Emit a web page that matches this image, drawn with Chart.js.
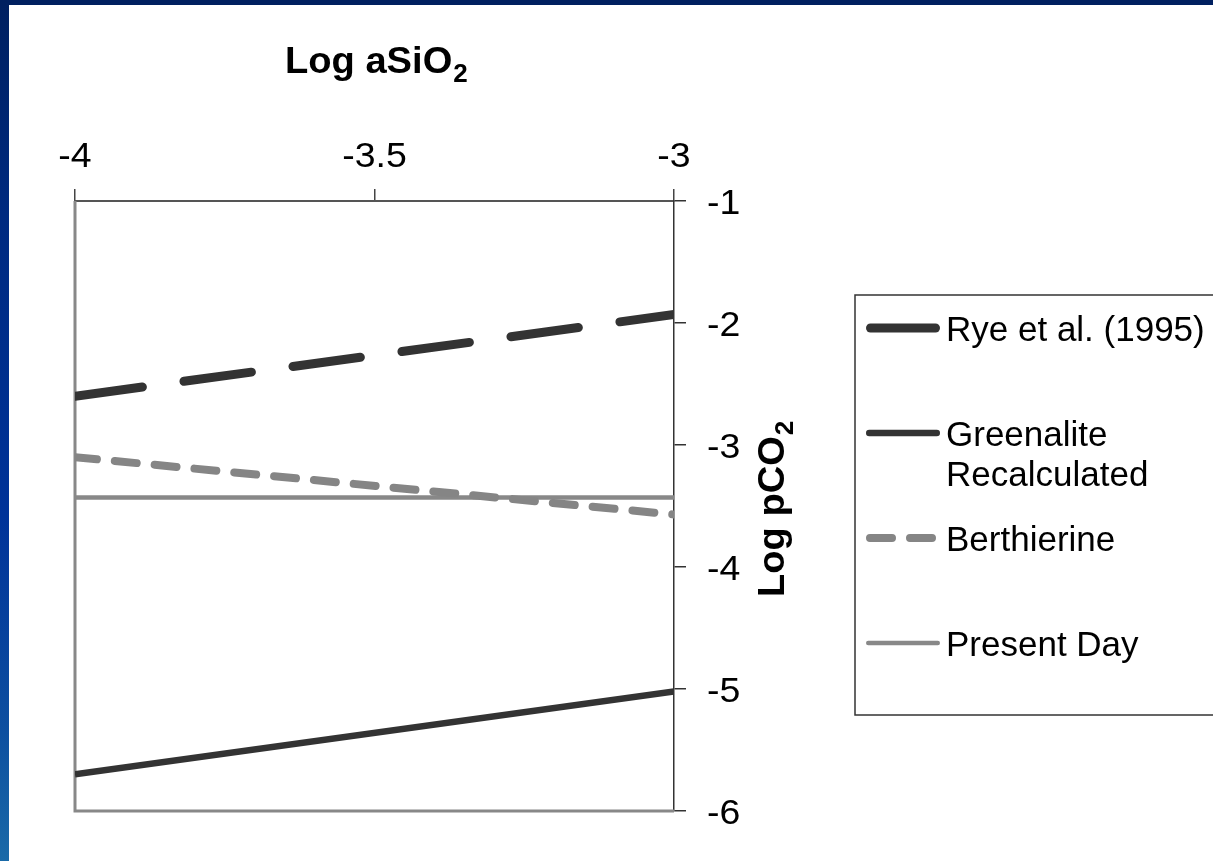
<!DOCTYPE html>
<html lang="en">
<head>
<meta charset="UTF-8">
<title>Log pCO2 vs Log aSiO2</title>
<style>
    body {
        margin: 0;
        background: #fff;
    }

    #wrap {
        position: relative;
        width: 1213px;
        height: 861px;
        overflow: hidden;
        background: #fff;
    }

    #top-band {
        position: absolute;
        left: 0;
        top: 0;
        width: 1213px;
        height: 5px;
        background: #002060;
    }

    #left-band {
        position: absolute;
        left: 0;
        top: 0;
        width: 9px;
        height: 861px;
        background: linear-gradient(to bottom, #002060 0%, #002a80 25%, #003399 60%, #0d4fa0 85%, #1a6aa8 100%);
    }

    #chart {
        position: absolute;
        left: 0;
        top: 0;
    }
</style>
<script src="https://cdn.jsdelivr.net/npm/chart.js"></script>
</head>
<body>
<div id="wrap">
    <div id="top-band"></div>
    <div id="left-band"></div>
    <canvas id="chart" width="1213" height="861"></canvas>
</div>

<script>
    // data
    const xValues = [-4, -3];
    const ryeValues = [-2.60, -1.93];
    const greenaliteValues = [-5.70, -5.02];
    const berthierineValues = [-3.10, -3.57];
    const presentDayValues = [-3.43, -3.43];

    const seriesNames = ['Rye et al. (1995)', 'Greenalite Recalculated', 'Berthierine', 'Present Day'];
    const xTickValues = [-4, -3.5, -3];
    const yTickValues = [-1, -2, -3, -4, -5, -6];

    const FONT = '"Liberation Sans", Arial, sans-serif';

    function toPoints(ys) {
        return xValues.map((x, i) => ({ x: x, y: ys[i] }));
    }

    // the slide text is a touch wider than plain Arial, so allow a small stretch
    function drawStretched(ctx, text, x, y, sx, align) {
        ctx.save();
        ctx.translate(x, y);
        ctx.scale(sx, 1);
        ctx.textAlign = align || 'left';
        ctx.fillText(text, 0, 0);
        ctx.restore();
    }

    function wrapLabel(ctx, label, maxWidth) {
        const words = label.split(' ');
        const lines = [];
        let cur = '';
        words.forEach(w => {
            const test = cur ? cur + ' ' + w : w;
            if (cur && ctx.measureText(test).width > maxWidth) {
                lines.push(cur);
                cur = w;
            } else {
                cur = test;
            }
        });
        if (cur) lines.push(cur);
        return lines;
    }

    const framePlugin = {
        id: 'frame',
        beforeDatasetsDraw(chart) {
            const { ctx, chartArea } = chart;
            ctx.save();
            ctx.strokeStyle = '#888888';
            ctx.lineWidth = 3;
            ctx.beginPath();
            ctx.moveTo(chartArea.left, chartArea.top);
            ctx.lineTo(chartArea.left, chartArea.bottom);
            ctx.lineTo(chartArea.right, chartArea.bottom);
            ctx.stroke();
            ctx.restore();
        }
    };

    const textPlugin = {
        id: 'texts',
        afterDraw(chart) {
            const ctx = chart.ctx;
            const xScale = chart.scales.x;
            const yScale = chart.scales.y;
            ctx.save();
            ctx.fillStyle = '#000';
            ctx.textBaseline = 'alphabetic';

            // tick labels
            ctx.font = '35px ' + FONT;
            xTickValues.forEach(v => {
                drawStretched(ctx, String(v), xScale.getPixelForValue(v), 167, 1.07, 'center');
            });
            yTickValues.forEach(v => {
                drawStretched(ctx, String(v), 707, yScale.getPixelForValue(v) + 12.5, 1.07, 'left');
            });

            // x axis title
            ctx.font = 'bold 37px ' + FONT;
            const tx = 285;
            drawStretched(ctx, 'Log aSiO', tx, 73, 1.03, 'left');
            const wx = ctx.measureText('Log aSiO').width * 1.03;
            ctx.font = 'bold 26px ' + FONT;
            drawStretched(ctx, '2', tx + wx + 1, 82, 1.0, 'left');

            // y axis title (rotated)
            ctx.save();
            ctx.translate(784, 597);
            ctx.rotate(-Math.PI / 2);
            ctx.font = 'bold 37px ' + FONT;
            drawStretched(ctx, 'Log pCO', 0, 0, 1.03, 'left');
            const wy = ctx.measureText('Log pCO').width * 1.03;
            ctx.font = 'bold 26px ' + FONT;
            drawStretched(ctx, '2', wy + 1, 9, 1.0, 'left');
            ctx.restore();

            // legend box (runs off the right edge like the slide)
            ctx.strokeStyle = '#333';
            ctx.lineWidth = 1.5;
            ctx.strokeRect(855, 295, 420, 420);

            const rowY = [328, 433, 538, 643];
            chart.data.datasets.forEach((ds, i) => {
                const y = rowY[i];
                ctx.save();
                ctx.strokeStyle = ds.borderColor;
                ctx.lineWidth = ds.borderWidth;
                ctx.lineCap = 'round';
                ctx.setLineDash(ds.borderDash || []);
                ctx.beginPath();
                ctx.moveTo(866 + ds.borderWidth / 2, y);
                ctx.lineTo(940 - ds.borderWidth / 2, y);
                ctx.stroke();
                ctx.restore();

                ctx.font = '35px ' + FONT;
                const lines = wrapLabel(ctx, ds.label, 265);
                lines.forEach((ln, j) => {
                    drawStretched(ctx, ln, 946, y + 12.5 + j * 40, 1.0, 'left');
                });
            });

            ctx.restore();
        }
    };

    new Chart(document.getElementById('chart'), {
        type: 'line',
        data: {
            datasets: [
                {
                    label: seriesNames[0],
                    data: toPoints(ryeValues),
                    borderColor: '#333333',
                    borderWidth: 9,
                    borderDash: [68, 42],
                    borderCapStyle: 'round'
                },
                {
                    label: seriesNames[1],
                    data: toPoints(greenaliteValues),
                    borderColor: '#333333',
                    borderWidth: 6.5
                },
                {
                    label: seriesNames[2],
                    data: toPoints(berthierineValues),
                    borderColor: '#858585',
                    borderWidth: 8,
                    borderDash: [22, 18],
                    borderCapStyle: 'round'
                },
                {
                    label: seriesNames[3],
                    data: toPoints(presentDayValues),
                    borderColor: '#888888',
                    borderWidth: 4.5
                }
            ]
        },
        options: {
            responsive: false,
            animation: false,
            events: [],
            clip: 0,
            elements: {
                point: { radius: 0 },
                line: { tension: 0 }
            },
            layout: {
                padding: { left: 75, right: 527, top: 189, bottom: 50 }
            },
            plugins: {
                legend: { display: false },
                tooltip: { enabled: false }
            },
            scales: {
                x: {
                    type: 'linear',
                    position: 'top',
                    min: -4,
                    max: -3,
                    ticks: { display: false, stepSize: 0.5 },
                    grid: {
                        drawOnChartArea: false,
                        tickLength: 12,
                        color: '#444',
                        lineWidth: 1.5
                    },
                    border: { color: '#555', width: 2 },
                    afterFit(scale) { scale.height = 12; }
                },
                y: {
                    type: 'linear',
                    position: 'right',
                    min: -6,
                    max: -1,
                    ticks: { display: false, stepSize: 1 },
                    grid: {
                        drawOnChartArea: false,
                        tickLength: 12,
                        color: '#333',
                        lineWidth: 1.5
                    },
                    border: { color: '#333', width: 1.5 },
                    afterFit(scale) { scale.width = 12; }
                }
            }
        },
        plugins: [framePlugin, textPlugin]
    });
</script>
</body>
</html>
